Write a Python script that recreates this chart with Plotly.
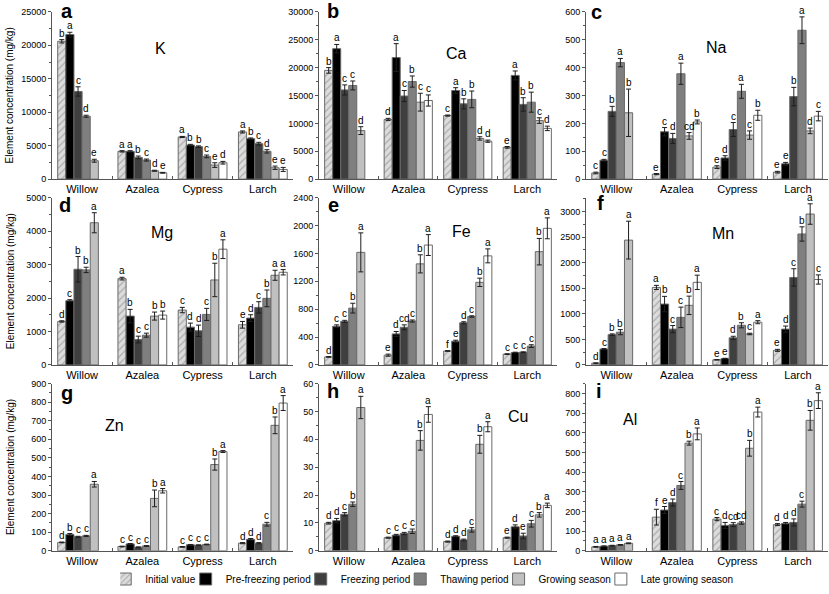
import plotly.graph_objects as go
from plotly.subplots import make_subplots

species = ["Willow", "Azalea", "Cypress", "Larch"]
periods = ["Initial value", "Pre-freezing period", "Freezing period",
           "Thawing period", "Growing season", "Late growing season"]

# rows = species, columns = periods (Willow has no late growing season sample)
K_mean = [[20600, 21600, 13100, 9400, 2750, None],
          [4150, 4150, 3250, 2850, 1250, 950],
          [6300, 5100, 4850, 3400, 2100, 2450],
          [7050, 6050, 5300, 4150, 1700, 1450]]
K_err = [[250, 350, 700, 150, 220, None],
         [100, 100, 200, 150, 80, 60],
         [80, 100, 120, 200, 350, 200],
         [150, 100, 200, 250, 250, 300]]
K_sig = [["b", "a", "c", "d", "e", None],
         ["a", "a", "b", "c", "d", "e"],
         ["a", "b", "b", "c", "e", "d"],
         ["a", "b", "c", "d", "e", "e"]]

Ca_mean = [[19500, 23400, 16000, 16800, 8700, None],
           [10700, 21800, 14900, 17500, 13800, 14100],
           [11400, 15900, 13500, 14300, 7300, 6800],
           [5700, 18600, 13400, 13800, 10500, 9100]]
Ca_err = [[500, 750, 900, 800, 700, None],
          [200, 2500, 1000, 1000, 1600, 1000],
          [100, 500, 900, 1500, 300, 200],
          [150, 800, 1200, 1800, 500, 400]]
Ca_sig = [["b", "a", "c", "c", "d", None],
          ["d", "a", "c", "b", "c", "c"],
          ["c", "a", "b", "b", "d", "d"],
          ["e", "a", "b", "b", "c", "d"]]

Na_mean = [[22, 68, 243, 418, 238, None],
           [18, 170, 146, 378, 155, 205],
           [43, 76, 178, 315, 158, 229],
           [25, 55, 296, 534, 173, 226]]
Na_err = [[3, 3, 18, 15, 85, None],
          [2, 15, 18, 38, 12, 7],
          [5, 8, 25, 25, 15, 18],
          [3, 5, 33, 48, 10, 17]]
Na_sig = [["c", "c", "b", "a", "b", None],
          ["e", "c", "d", "a", "cd", "b"],
          ["e", "d", "c", "a", "c", "b"],
          ["e", "e", "b", "a", "d", "c"]]

Mg_mean = [[1300, 1920, 2860, 2840, 4250, None],
           [2580, 1460, 760, 890, 1460, 1490],
           [1640, 1130, 1020, 1510, 2540, 3460],
           [1200, 1400, 1720, 1990, 2680, 2770]]
Mg_err = [[20, 30, 380, 80, 300, None],
          [40, 200, 100, 60, 120, 120],
          [80, 120, 170, 180, 500, 280],
          [100, 100, 170, 250, 150, 80]]
Mg_sig = [["d", "c", "b", "b", "a", None],
          ["a", "b", "c", "c", "b", "b"],
          ["c", "d", "d", "c", "b", "a"],
          ["e", "d", "c", "b", "a", "a"]]

Fe_mean = [[115, 555, 625, 815, 1615, None],
           [140, 445, 540, 630, 1450, 1720],
           [200, 340, 605, 695, 1185, 1565],
           [155, 178, 183, 270, 1625, 1960]]
Fe_err = [[5, 20, 15, 70, 280, None],
          [15, 35, 35, 15, 130, 150],
          [5, 15, 15, 10, 60, 100],
          [5, 5, 5, 20, 190, 150]]
Fe_sig = [["d", "c", "c", "b", "a", None],
          ["e", "d", "cd", "c", "b", "a"],
          ["f", "e", "d", "c", "b", "a"],
          ["c", "c", "c", "c", "b", "a"]]

Mn_mean = [[35, 310, 592, 640, 2440, None],
           [1515, 1190, 700, 930, 1165, 1615],
           [100, 125, 530, 775, 605, 835],
           [285, 700, 1710, 2560, 2950, 1670]]
Mn_err = [[5, 10, 15, 50, 370, None],
          [40, 150, 70, 200, 180, 140],
          [5, 5, 30, 50, 15, 30],
          [20, 60, 170, 140, 200, 90]]
Mn_sig = [["d", "c", "b", "b", "a", None],
          ["a", "b", "c", "c", "b", "a"],
          ["e", "e", "d", "b", "c", "a"],
          ["e", "d", "c", "b", "a", "c"]]

Zn_mean = [[45, 88, 75, 80, 358, None],
           [23, 37, 19, 26, 282, 323],
           [21, 32, 30, 34, 464, 534],
           [41, 62, 41, 143, 675, 795]]
Zn_err = [[2, 5, 3, 3, 15, None],
          [2, 2, 2, 2, 45, 12],
          [2, 2, 2, 2, 30, 5],
          [3, 4, 3, 10, 45, 40]]
Zn_sig = [["d", "b", "c", "c", "a", None],
          ["c", "c", "c", "c", "b", "a"],
          ["c", "c", "c", "c", "b", "a"],
          ["d", "d", "d", "c", "b", "a"]]

Cu_mean = [[9.9, 10.8, 13.1, 16.7, 51.4, None],
           [4.7, 5.6, 6.2, 7.0, 39.6, 48.9],
           [3.3, 5.2, 3.9, 7.5, 38.2, 44.5],
           [4.7, 8.6, 5.3, 9.7, 12.9, 16.3]]
Cu_err = [[0.3, 0.8, 0.6, 0.8, 4.0, None],
          [0.2, 0.3, 0.4, 0.8, 3.5, 2.8],
          [0.2, 0.2, 0.3, 0.8, 3.2, 1.8],
          [0.2, 0.7, 1.0, 1.2, 0.8, 0.8]]
Cu_sig = [["d", "d", "c", "b", "a", None],
          ["c", "c", "c", "c", "b", "a"],
          ["d", "d", "d", "c", "b", "a"],
          ["e", "d", "e", "c", "b", "a"]]

Al_mean = [[20, 23, 26, 30, 38, None],
           [171, 207, 245, 332, 547, 594],
           [161, 129, 133, 141, 521, 705],
           [133, 139, 144, 237, 663, 763]]
Al_err = [[2, 2, 2, 2, 2, None],
          [40, 18, 18, 20, 10, 30],
          [8, 15, 10, 6, 40, 25],
          [5, 5, 18, 15, 50, 40]]
Al_sig = [["a", "a", "a", "a", "a", None],
          ["f", "e", "d", "c", "b", "a"],
          ["c", "d", "cd", "cd", "b", "a"],
          ["d", "d", "d", "c", "b", "a"]]

# panel letter, element, data, axis top, major tick step
panels = [
    ("a", "K", K_mean, K_err, K_sig, 25000, 5000),
    ("b", "Ca", Ca_mean, Ca_err, Ca_sig, 30000, 5000),
    ("c", "Na", Na_mean, Na_err, Na_sig, 600, 100),
    ("d", "Mg", Mg_mean, Mg_err, Mg_sig, 5000, 1000),
    ("e", "Fe", Fe_mean, Fe_err, Fe_sig, 2400, 400),
    ("f", "Mn", Mn_mean, Mn_err, Mn_sig, 3270, 500),
    ("g", "Zn", Zn_mean, Zn_err, Zn_sig, 900, 100),
    ("h", "Cu", Cu_mean, Cu_err, Cu_sig, 60, 10),
    ("i", "Al", Al_mean, Al_err, Al_sig, 850, 100),
]

# position of letter / element label inside each panel (domain fractions)
letter_pos = [(0.062, 0.99), (0.059, 0.99), (0.045, 0.98),
              (0.054, 0.94), (0.059, 0.94), (0.058, 0.953),
              (0.062, 0.924), (0.059, 0.936), (0.054, 0.936)]
elem_pos = [(0.452, 0.778), (0.576, 0.749), (0.537, 0.789),
            (0.456, 0.789), (0.597, 0.795), (0.566, 0.784),
            (0.261, 0.749), (0.836, 0.801), (0.182, 0.784)]

colors = ["#d6d6d6", "#000000", "#3f3f3f", "#7f7f7f", "#c0c0c0", "#ffffff"]
edge = "#6a6a6a"
axcol = "#555555"
font = "Liberation Sans, Arial, sans-serif"

col_dom = [(0.0627, 0.3534), (0.3848, 0.6719), (0.7069, 0.999)]
row_dom = [(0.7003, 0.9882), (0.3805, 0.6684), (0.0606, 0.3485)]

bargap = 0.19
slot = (1 - bargap) / len(periods)

fig = make_subplots(rows=3, cols=3)

for p, (letter, elem, mean, err, sig, ytop, step) in enumerate(panels):
    r, c = p // 3 + 1, p % 3 + 1
    for j, name in enumerate(periods):
        vals = [row[j] for row in mean]
        errs = [row[j] for row in err]
        marker = dict(color=colors[j], line=dict(color=edge, width=1))
        if j == 0:
            marker["pattern"] = dict(shape="/", fgcolor="#7a7a7a", bgcolor="#dcdcdc",
                                     size=5, solidity=0.25, fillmode="overlay")
        fig.add_trace(go.Bar(
            x=species, y=vals, name=name, marker=marker,
            error_y=dict(type="data", array=errs, color="#1e1e1e", thickness=1, width=2.5),
            showlegend=(p == 0), legendgroup=name,
        ), row=r, col=c)
        # significance letters above the error bars
        for k in range(len(species)):
            if vals[k] is None:
                continue
            xk = k - (1 - bargap) / 2 + (j + 0.5) * slot
            fig.add_annotation(x=xk, y=vals[k] + errs[k], text=sig[k][j],
                               showarrow=False, xanchor="center", yanchor="bottom", yshift=-1,
                               font=dict(size=10, color="black", family=font),
                               row=r, col=c)

    fig.update_xaxes(type="category", range=[-0.5, 3.5], showline=True, linecolor=axcol,
                     ticks="inside", tickson="boundaries", ticklen=3, tickcolor=axcol,
                     tickfont=dict(size=11, color="black"), showgrid=False,
                     domain=col_dom[c - 1], row=r, col=c)
    fig.update_yaxes(range=[0, ytop], dtick=step, tick0=0, tickformat="d",
                     showline=True, linecolor=axcol,
                     ticks="outside", ticklen=3, tickcolor=axcol,
                     minor=dict(ticks="outside", ticklen=2, tickcolor=axcol, dtick=step / 2),
                     tickfont=dict(size=9, color="black"), showgrid=False, zeroline=False,
                     domain=row_dom[r - 1], row=r, col=c)

    ax = "" if p == 0 else str(p + 1)
    fig.add_annotation(xref=f"x{ax} domain", yref=f"y{ax} domain",
                       x=letter_pos[p][0], y=letter_pos[p][1], text=f"<b>{letter}</b>",
                       xanchor="center", yanchor="middle", yshift=3,
                       showarrow=False, font=dict(size=20, color="black", family=font))
    fig.add_annotation(xref=f"x{ax} domain", yref=f"y{ax} domain",
                       x=elem_pos[p][0], y=elem_pos[p][1], text=elem,
                       xanchor="center", yanchor="middle",
                       showarrow=False, font=dict(size=16, color="black", family=font))

for lo, hi in row_dom:
    fig.add_annotation(xref="paper", yref="paper", x=0.012, y=(lo + hi) / 2,
                       text="Element concentration (mg/kg)", textangle=-90,
                       xanchor="center", yanchor="middle",
                       showarrow=False, font=dict(size=10, color="black", family=font))

fig.update_layout(
    width=829, height=594,
    margin=dict(l=0, r=0, t=0, b=0),
    barmode="group", bargap=bargap, bargroupgap=0,
    plot_bgcolor="white", paper_bgcolor="white",
    font=dict(family=font, color="black"),
    legend=dict(orientation="h", x=0.145, xanchor="left", y=0.012, yanchor="middle",
                font=dict(size=10), indentation=-15, itemwidth=30,
                bgcolor="rgba(0,0,0,0)", traceorder="normal"),
)

# page body has a default 8px margin that would push the figure off-canvas
fig.write_html("out.html", config={"displayModeBar": False},
               post_script="document.body.style.margin='0';")
